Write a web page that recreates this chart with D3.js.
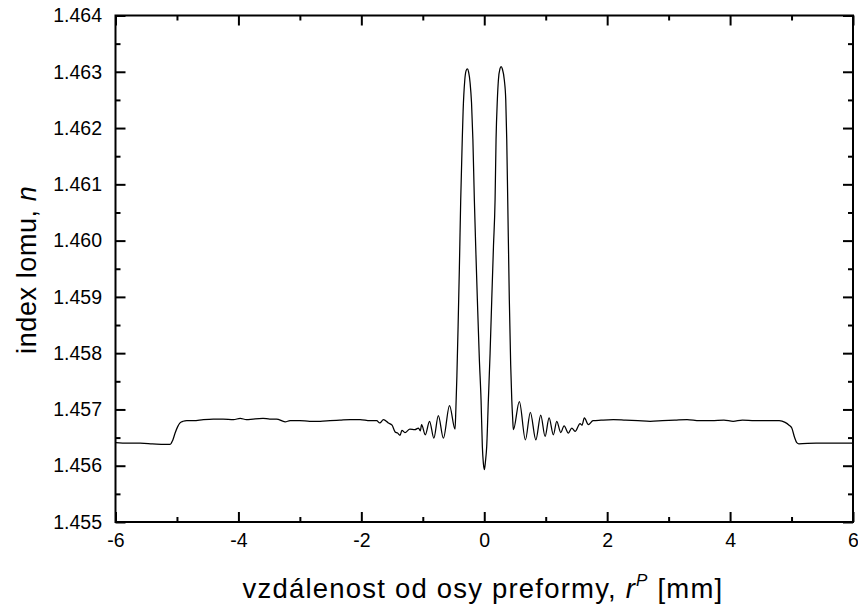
<!DOCTYPE html>
<html>
<head>
<meta charset="utf-8">
<script src="https://cdn.jsdelivr.net/npm/d3@7"></script>
<style>
  html, body { margin: 0; padding: 0; background: #fff; }
  svg { display: block; }
  text { font-family: "Liberation Sans", Arial, Helvetica, sans-serif; fill: #000; }
</style>
</head>
<body>
<svg id="chart" width="858" height="609"></svg>
<script>
// ---- data ----
const rPos = [
  -6.00, -5.80, -5.60, -5.40, -5.20, -5.11, -5.07, -5.03, -4.99, -4.95, -4.90, -4.84,
  -4.73, -4.57, -4.41, -4.25, -4.08, -3.97, -3.87, -3.76, -3.60, -3.49, -3.38, -3.24,
  -3.16, -3.00, -2.84, -2.67, -2.51, -2.35, -2.18, -2.02, -1.86, -1.75, -1.70, -1.64,
  -1.56, -1.50, -1.45, -1.41, -1.37, -1.34, -1.29, -1.21, -1.13, -1.07, -1.04, -1.02,
  -0.96, -0.89, -0.82, -0.747, -0.665, -0.565, -0.475,
  -0.462, -0.445, -0.425, -0.405, -0.383, -0.360, -0.344, -0.317, -0.295, -0.275,
  -0.255, -0.230, -0.207, -0.185, -0.161, -0.135, -0.112, -0.080, -0.052, -0.031,
  -0.015, 0.002, 0.020, 0.040, 0.067, 0.095, 0.122, 0.150, 0.176, 0.192, 0.213,
  0.230, 0.255, 0.274, 0.295, 0.327, 0.350, 0.366, 0.382, 0.408, 0.430, 0.448,
  0.462, 0.474,
  0.571, 0.670, 0.750, 0.840, 0.919, 0.990, 1.055, 1.125, 1.180, 1.245, 1.299,
  1.369, 1.424, 1.478, 1.559, 1.590, 1.629, 1.694, 1.77,
  1.90, 2.10, 2.30, 2.50, 2.70, 2.90, 3.10, 3.30, 3.50, 3.70, 3.90, 4.05, 4.20,
  4.40, 4.60, 4.80, 4.895, 4.96, 5.004, 5.05, 5.085, 5.12, 5.40, 5.70, 6.00
];
const nVal = [
  1.45641, 1.45640, 1.45640, 1.45639, 1.45638, 1.45638, 1.45645, 1.45658, 1.45669, 1.45676, 1.45679, 1.45680,
  1.45680, 1.45682, 1.45683, 1.45683, 1.45682, 1.45684, 1.45682, 1.45683, 1.45684, 1.45683, 1.45683, 1.45678,
  1.45680, 1.45680, 1.45679, 1.45679, 1.45680, 1.45681, 1.45682, 1.45682, 1.45680, 1.45680, 1.45676, 1.45682,
  1.45676, 1.45672, 1.45660, 1.45658, 1.45654, 1.45663, 1.45659, 1.45665, 1.45664, 1.45667, 1.45662, 1.45673,
  1.45655, 1.45679, 1.45649, 1.45689, 1.45649, 1.45707, 1.45665,
  1.45700, 1.45760, 1.45850, 1.45950, 1.46072, 1.46170, 1.46230, 1.46285, 1.46302, 1.46305,
  1.46300, 1.46280, 1.46245, 1.46180, 1.46072, 1.45975, 1.45895, 1.45790, 1.45717, 1.45634,
  1.45605, 1.45593, 1.45608, 1.45634, 1.45717, 1.45800, 1.45895, 1.45990, 1.46072, 1.46179, 1.46250,
  1.46285, 1.46305, 1.46309, 1.46305, 1.46285, 1.46250, 1.46179, 1.46072, 1.45895, 1.45780, 1.45717,
  1.45685, 1.45664,
  1.45714, 1.45646, 1.45695, 1.45646, 1.45690, 1.45652, 1.45685, 1.45655, 1.45679, 1.45659, 1.45671,
  1.45658, 1.45667, 1.45661, 1.45675, 1.45672, 1.45685, 1.45673, 1.45680,
  1.45681, 1.45682, 1.45681, 1.45680, 1.45679, 1.45680, 1.45681, 1.45682, 1.45680, 1.45680, 1.45681, 1.45679, 1.45681,
  1.45680, 1.45680, 1.45680, 1.45677, 1.45672, 1.45667, 1.45650, 1.45641, 1.45639, 1.45640, 1.45640, 1.45640
];
const xTicks = [-6, -4, -2, 0, 2, 4, 6];
const xMinor = [-5, -3, -1, 1, 3, 5];
const yTicks = [1.455, 1.456, 1.457, 1.458, 1.459, 1.460, 1.461, 1.462, 1.463, 1.464];
const yMinor = [1.4555, 1.4565, 1.4575, 1.4585, 1.4595, 1.4605, 1.4615, 1.4625, 1.4635];

// ---- layout ----
const L = 115.5, R = 853, T = 15.5, B = 522;
const svg = d3.select("#chart");
const x = d3.scaleLinear().domain([-6, 6]).range([L, R]);
const y = d3.scaleLinear().domain([1.455, 1.464]).range([B, T]);

const points = rPos.map((r, i) => [r, nVal[i]]);

// curve
svg.append("path")
  .datum(points)
  .attr("fill", "none")
  .attr("stroke", "#000")
  .attr("stroke-width", 1.25)
  .attr("d", d3.line().x(d => x(d[0])).y(d => y(d[1])).curve(d3.curveMonotoneX));

function styleAxis(g) {
  g.select(".domain").remove();
  g.selectAll(".tick line").attr("stroke", "#000").attr("stroke-width", 2);
  g.selectAll(".tick text").attr("font-size", 19.5).attr("fill", "#000");
}
const fmtX = d => String(d);
const fmtY = d3.format(".3f");

// bottom
svg.append("g").attr("transform", `translate(0,${B})`)
  .call(d3.axisBottom(x).tickValues(xTicks).tickFormat(fmtX).tickSize(-10).tickSizeOuter(0).tickPadding(11))
  .call(styleAxis);
svg.append("g").attr("transform", `translate(0,${B})`)
  .call(d3.axisBottom(x).tickValues(xMinor).tickFormat("").tickSize(-5).tickSizeOuter(0))
  .call(styleAxis);
// top
svg.append("g").attr("transform", `translate(0,${T})`)
  .call(d3.axisTop(x).tickValues(xTicks).tickFormat("").tickSize(-10).tickSizeOuter(0))
  .call(styleAxis);
svg.append("g").attr("transform", `translate(0,${T})`)
  .call(d3.axisTop(x).tickValues(xMinor).tickFormat("").tickSize(-5).tickSizeOuter(0))
  .call(styleAxis);
// left
svg.append("g").attr("transform", `translate(${L},0)`)
  .call(d3.axisLeft(y).tickValues(yTicks).tickFormat(fmtY).tickSize(-10).tickSizeOuter(0).tickPadding(13.5))
  .call(styleAxis);
svg.append("g").attr("transform", `translate(${L},0)`)
  .call(d3.axisLeft(y).tickValues(yMinor).tickFormat("").tickSize(-5).tickSizeOuter(0))
  .call(styleAxis);
// right
svg.append("g").attr("transform", `translate(${R},0)`)
  .call(d3.axisRight(y).tickValues(yTicks).tickFormat("").tickSize(-10).tickSizeOuter(0))
  .call(styleAxis);
svg.append("g").attr("transform", `translate(${R},0)`)
  .call(d3.axisRight(y).tickValues(yMinor).tickFormat("").tickSize(-5).tickSizeOuter(0))
  .call(styleAxis);

// frame
svg.append("rect")
  .attr("x", L).attr("y", T).attr("width", R - L).attr("height", B - T)
  .attr("fill", "none").attr("stroke", "#000").attr("stroke-width", 2);

// axis titles
const xt = svg.append("text")
  .attr("x", 483).attr("y", 598)
  .attr("text-anchor", "middle").attr("font-size", 27.5).attr("letter-spacing", 1.2);
xt.append("tspan").text("vzdálenost od osy preformy, ");
xt.append("tspan").attr("font-style", "italic").text("r");
xt.append("tspan").attr("font-style", "italic").attr("font-size", 17).attr("dy", -12).text("P");
xt.append("tspan").attr("dy", 12).text(" [mm]");

const yt = svg.append("text")
  .attr("transform", `translate(36,${(T + B) / 2 + 1}) rotate(-90)`)
  .attr("text-anchor", "middle").attr("font-size", 27).attr("letter-spacing", 0.6);
yt.append("tspan").text("index lomu, ");
yt.append("tspan").attr("font-style", "italic").text("n");
</script>
</body>
</html>
